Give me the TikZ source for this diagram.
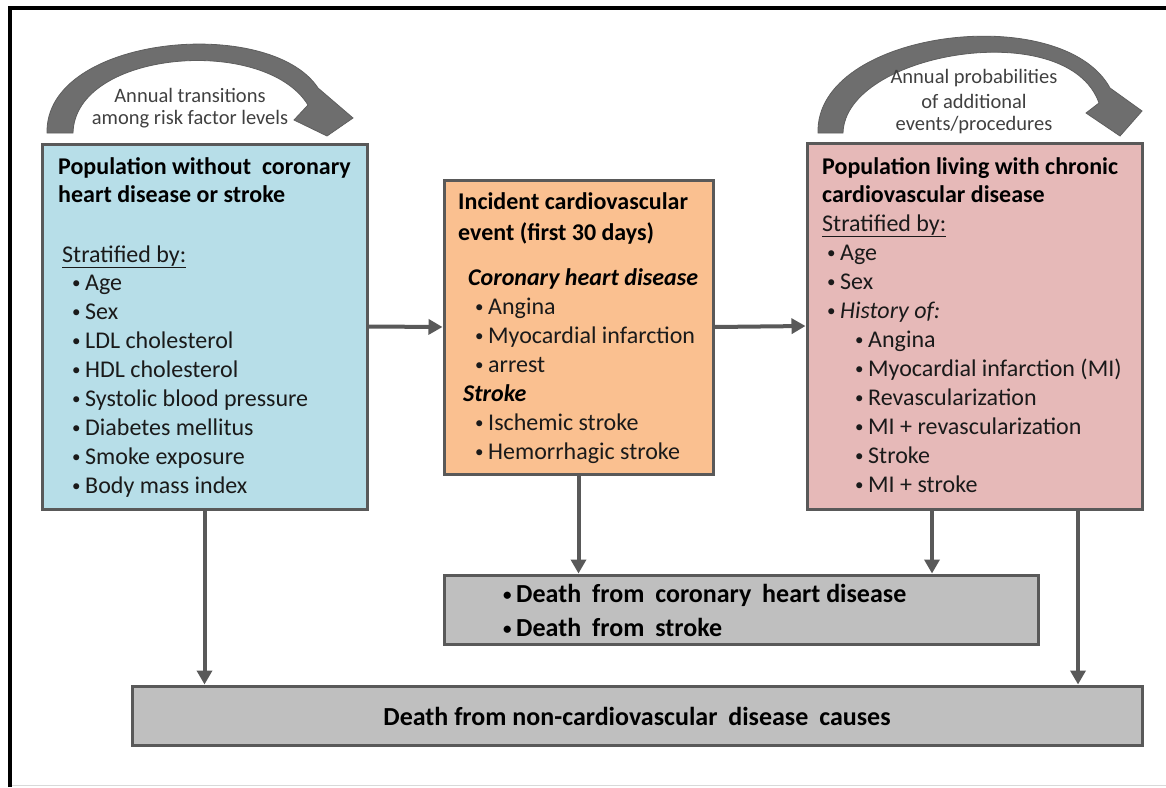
\documentclass[tikz,border=0pt]{standalone}
\usepackage{fontspec}
\setmainfont{Carlito}
\usepackage{tikz}
\usetikzlibrary{arrows.meta}
\definecolor{popblue}{HTML}{B7DEE8}
\definecolor{eventorange}{HTML}{FAC090}
\definecolor{chronicpink}{HTML}{E6B9B8}
\definecolor{deathgray}{HTML}{BFBFBF}
\definecolor{boxline}{HTML}{595959}
\definecolor{arcgray}{HTML}{6E6E6E}
\definecolor{arcedge}{HTML}{5E5E5E}
\definecolor{arctext}{HTML}{404040}
\definecolor{bodytext}{HTML}{1A1A1A}
\newcommand{\bul}{\makebox[13pt][l]{\raisebox{1.5pt}{\fontsize{17}{17}\selectfont\textbullet}}}
\newcommand{\wsp}{\hspace{5pt}}
\tikzset{stagebox/.style = {draw=boxline, line width=3pt, inner sep=0pt}}
\tikzset{bullitem/.style = {anchor=base west, inner sep=0pt, text=bodytext,
                            font=\fontsize{24}{29}\selectfont}}
\tikzset{boxhead/.style = {anchor=base west, inner sep=0pt, text=black,
                           font=\fontsize{24}{29}\selectfont\bfseries}}
\tikzset{deathtext/.style = {inner sep=0pt, text=black,
                             font=\fontsize{26}{31}\selectfont\bfseries}}
\tikzset{flow/.style = {draw=boxline, line width=4pt,
                        -{Triangle[length=14pt,width=15pt]}}}
\tikzset{cycarrow/.style = {fill=arcgray, draw=arcedge, line width=0.8pt}}
\tikzset{arclabel/.style = {inner sep=0pt, text=arctext,
                            font=\fontsize{20.5}{24}\selectfont}}

\begin{document}
\begin{tikzpicture}[x=1pt,y=-1pt]
      \useasboundingbox (0,0) rectangle (1166,787);
      \draw[black!15, line width=0.8pt] (10,785) -- (1166,785);
      \draw[black, line width=4.5pt] (10,787) -- (10,8) -- (1166,8);

      \node[stagebox, fill=popblue, minimum width=325pt, minimum height=365pt]
        (pop) at (204.5,326.5) {};
      \node[stagebox, fill=eventorange, minimum width=269pt, minimum height=294pt]
        (event) at (578.5,327) {};
      \node[stagebox, fill=chronicpink, minimum width=335pt, minimum height=366pt]
        (chronic) at (974.5,326) {};
      \node[stagebox, fill=deathgray, minimum width=594pt, minimum height=69pt]
        (dchd) at (741,609.5) {};
      \node[stagebox, fill=deathgray, minimum width=1010pt, minimum height=59pt]
        (dother) at (637,715.5) {};

      \draw[cycarrow] (47,133) .. controls (45,35) and (270,15) .. (318,88)
        -- (353,118) -- (327,136) -- (294,120) -- (308,105)
        .. controls (265,35) and (75,50) .. (73,133) -- cycle;
      \draw[cycarrow] (818,133) .. controls (815,30) and (1062,0) .. (1110,88)
        -- (1142,111) -- (1120,136) -- (1086,113) -- (1099,103)
        .. controls (1068,15) and (845,52) .. (843,133) -- cycle;
      \node[arclabel] (arcpop1) at (190,95) {Annual transitions};
      \node[arclabel] (arcpop2) at (190,119) {among risk factor levels};
      \node[arclabel] (arcchr1) at (974,78) {Annual probabilities};
      \node[arclabel] (arcchr2) at (974,101) {of additional};
      \node[arclabel] (arcchr3) at (974,125) {events/procedures};

      \node[boxhead] (poptitle1) at (58,174) {Population without \ coronary};
      \node[boxhead] (poptitle2) at (58,202) {heart disease or stroke};
      \node[bullitem] (popstrat) at (62,262) {\underline{Stratified by:}};
      \foreach \t [count=\i from 0] in {Age, Sex, LDL cholesterol, HDL cholesterol,
          Systolic blood pressure, Diabetes mellitus, Smoke exposure, Body mass index}
        \node[bullitem] (risk\i) at (72,{290+29*\i}) {\bul\t};

      \node[boxhead] (eventtitle1) at (458,209) {Incident cardiovascular};
      \node[boxhead] (eventtitle2) at (458,240) {event (first 30 days)};
      \node[boxhead, font=\fontsize{24}{29}\selectfont\bfseries\itshape]
        (chd) at (468,285) {Coronary heart disease};
      \foreach \t [count=\i from 0] in {Angina, Myocardial infarction, arrest}
        \node[bullitem] (chd\i) at (475,{314+29*\i}) {\bul\t};
      \node[boxhead, font=\fontsize{24}{29}\selectfont\bfseries\itshape]
        (stk) at (463,401) {Stroke};
      \foreach \t [count=\i from 0] in {Ischemic stroke, Hemorrhagic stroke}
        \node[bullitem] (stk\i) at (475,{430+29*\i}) {\bul\t};

      \node[boxhead] (chrtitle1) at (822,174) {Population living with chronic};
      \node[boxhead] (chrtitle2) at (822,202) {cardiovascular disease};
      \node[bullitem] (chrstrat) at (822,231) {\underline{Stratified by:}};
      \foreach \t [count=\i from 0] in {Age, Sex, \textit{History of:}}
        \node[bullitem] (chr\i) at (827,{260+29*\i}) {\bul\t};
      \foreach \t [count=\i from 0] in {Angina, Myocardial infarction (MI),
          Revascularization, MI + revascularization, Stroke, MI + stroke}
        \node[bullitem] (hist\i) at (855,{347+29*\i}) {\bul\t};

      \node[deathtext, anchor=base west] (dchd1) at (503,602)
        {\bul Death\wsp{} from\wsp{} coronary\wsp{} heart disease};
      \node[deathtext, anchor=base west] (dchd2) at (503,636)
        {\bul Death\wsp{} from\wsp{} stroke};
      \node[deathtext, anchor=base] (dother1) at (637,725)
        {Death from non-cardiovascular\wsp{} disease\wsp{} causes};

      \coordinate (chrleft) at (932,0);
      \coordinate (chrright) at (1078,0);
      \draw[flow] (pop.east) -- (event.west);
      \draw[flow] (event.east) -- (chronic.west);
      \draw[flow] (pop.south) -- (pop.south |- dother.north);
      \draw[flow] (event.south) -- (event.south |- dchd.north);
      \draw[flow] (chronic.south -| chrleft) -- (dchd.north -| chrleft);
      \draw[flow] (chronic.south -| chrright) -- (dother.north -| chrright);
    \end{tikzpicture}
\end{document}
